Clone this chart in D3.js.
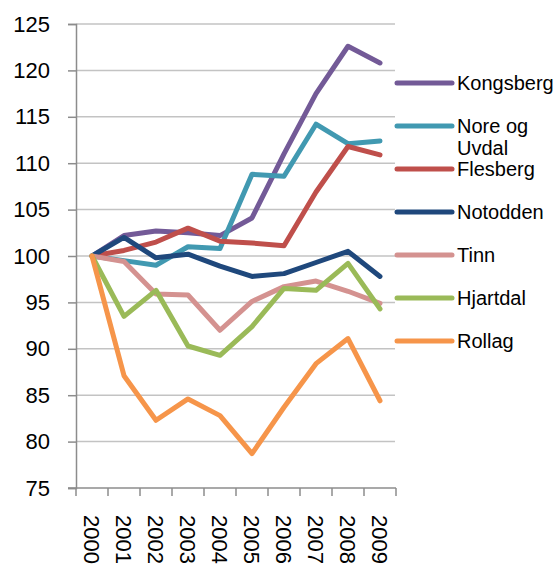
<!DOCTYPE html>
<html><head><meta charset="utf-8">
<script src="https://cdn.jsdelivr.net/npm/d3@7"></script>
<style>
html,body{margin:0;padding:0;background:#fff;}
svg{display:block;}
text{font-family:"Liberation Sans",Arial,sans-serif;fill:#000;}
</style></head>
<body>
<svg id="chart" width="560" height="567"></svg>
<script>
const years = ["2000","2001","2002","2003","2004","2005","2006","2007","2008","2009"];
const yTicks = [75,80,85,90,95,100,105,110,115,120,125];
const seriesNames = ["Kongsberg","Nore og Uvdal","Flesberg","Notodden","Tinn","Hjartdal","Rollag"];
const legendLabels = [["Kongsberg"],["Nore og","Uvdal"],["Flesberg"],["Notodden"],["Tinn"],["Hjartdal"],["Rollag"]];
const colors = ["#735A97","#4199B1","#BF4F4B","#1F487C","#D49290","#9ABA58","#F6954A"];
const kongsberg = [100,102.2,102.7,102.5,102.2,104.1,111.0,117.5,122.6,120.8];
const noreOgUvdal = [100,99.5,99.0,101.0,100.8,108.8,108.6,114.2,112.1,112.4];
const flesberg = [100,100.6,101.5,103.0,101.6,101.4,101.1,106.9,111.8,110.9];
const notodden = [100,102.0,99.8,100.2,98.9,97.8,98.1,99.3,100.5,97.8];
const tinn = [100,99.4,95.9,95.8,92.0,95.1,96.7,97.3,96.2,94.9];
const hjartdal = [100,93.5,96.3,90.3,89.3,92.4,96.5,96.3,99.2,94.3];
const rollag = [100,87.1,82.3,84.6,82.8,78.7,83.7,88.4,91.1,84.4];
const seriesValues = [kongsberg,noreOgUvdal,flesberg,notodden,tinn,hjartdal,rollag];

(function(){
const svg = d3.select("#chart");
const pLeft = 76, pRight = 396, pTop = 24, pBottom = 488;

const x = d3.scaleBand().domain(years).range([pLeft, pRight]).padding(0);
const y = d3.scaleLinear().domain([75,125]).range([pBottom, pTop]);

// gridlines
svg.append("g").selectAll("line").data(yTicks.filter(t => t > 75)).join("line")
  .attr("x1", pLeft).attr("x2", pRight - 1)
  .attr("y1", d => y(d)).attr("y2", d => y(d))
  .attr("stroke", "#c3c3c3").attr("stroke-width", 1.5);

// y axis
const yAxis = svg.append("g").attr("transform", `translate(${pLeft},0)`)
  .call(d3.axisLeft(y).tickValues(yTicks).tickSize(8).tickPadding(18).tickFormat(d3.format("d")));
yAxis.select(".domain").attr("stroke", "#8c8c8c").attr("stroke-width", 1.5);
yAxis.selectAll(".tick line").attr("stroke", "#8c8c8c").attr("stroke-width", 1.5);
yAxis.selectAll(".tick text").style("font-size", "22px").style("font-family", '"Liberation Sans",Arial,sans-serif').attr("fill", "#000");

// x axis
const xAxisG = svg.append("g").attr("transform", `translate(0,${pBottom})`);
xAxisG.append("line").attr("x1", pLeft - 8).attr("x2", pRight).attr("y1", 0).attr("y2", 0)
  .attr("stroke", "#8c8c8c").attr("stroke-width", 1.5);
const edges = years.map(d => x(d)).concat([x(years[years.length - 1]) + x.bandwidth()]);
xAxisG.selectAll("line.tk").data(edges).join("line").attr("class", "tk")
  .attr("x1", d => d).attr("x2", d => d).attr("y1", 0).attr("y2", 8)
  .attr("stroke", "#8c8c8c").attr("stroke-width", 1.5);
xAxisG.selectAll("text").data(years).join("text")
  .attr("transform", d => `translate(${x(d) + x.bandwidth() / 2},27) rotate(90)`)
  .attr("dy", "0.35em").attr("text-anchor", "start")
  .style("font-size", "22px").text(d => d);

// lines
const line = d3.line().x((d, i) => x(years[i]) + x.bandwidth() / 2).y(d => y(d));
svg.append("g").selectAll("path").data(seriesValues).join("path")
  .attr("d", d => line(d)).attr("fill", "none")
  .attr("stroke", (d, i) => colors[i]).attr("stroke-width", 5)
  .attr("stroke-linejoin", "round").attr("stroke-linecap", "round");

// legend
const legendYs = [83, 126, 169, 212, 255, 298, 341];
const lg = svg.append("g").selectAll("g").data(seriesNames).join("g")
  .attr("transform", (d, i) => `translate(397,${legendYs[i]})`);
lg.append("line").attr("x1", 0).attr("x2", 55).attr("y1", 0).attr("y2", 0)
  .attr("stroke", (d, i) => colors[i]).attr("stroke-width", 5).attr("stroke-linecap", "round");
lg.each(function(d, i) {
  const g = d3.select(this);
  legendLabels[i].forEach((t, j) => {
    g.append("text").attr("x", 60).attr("y", j * 22).attr("dy", "0.35em")
      .style("font-size", "20px").text(t);
  });
});
})();
</script>
</body></html>
